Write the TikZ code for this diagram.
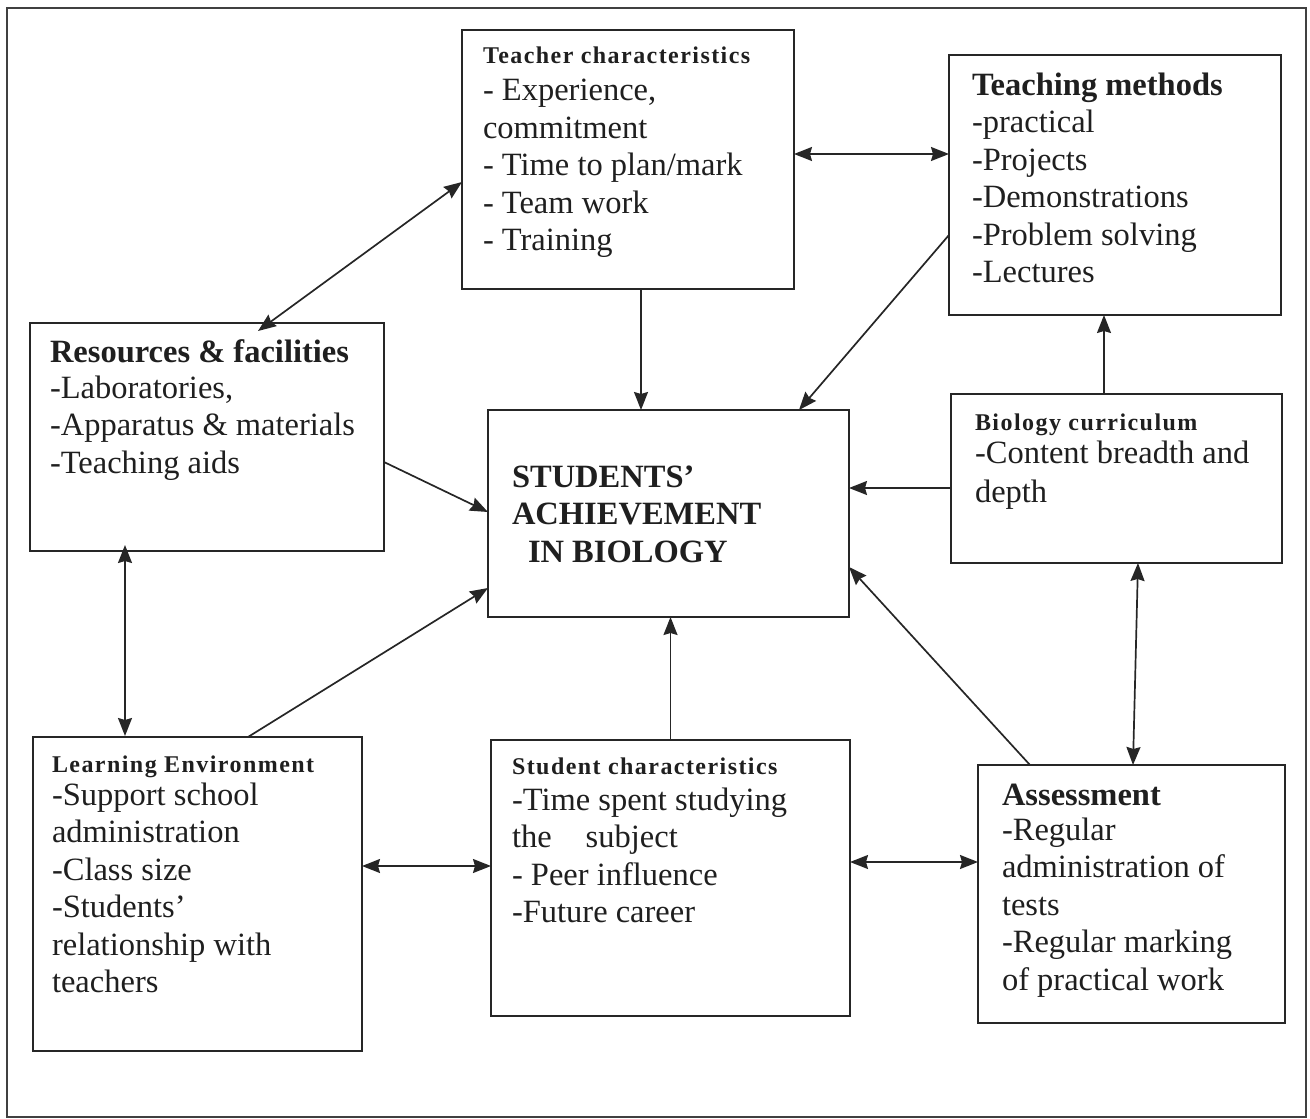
\documentclass[tikz,border=0pt]{standalone}
\usepackage{fontspec}
\setmainfont{Liberation Serif}
\newfontfamily\smallheadfam{Liberation Serif}[LetterSpace=6]
\usetikzlibrary{arrows.meta,calc}
\newcommand\bodyfont{\fontsize{32.5}{37.5}\selectfont}
\newcommand\hs[1]{{\fontsize{24}{26}\selectfont\smallheadfam\bfseries #1}}
\newcommand\hb[1]{{\bfseries #1}}
\newcommand\boxtext[1]{\bodyfont\begin{tabular}[t]{@{}l@{}}#1\end{tabular}}
\tikzset{
  ink/.style={draw=black!85},
  tipk/.tip={Stealth[length=18pt,width=14pt,inset=2pt]},
  box/.style={ink, line width=1.8pt, rectangle, inner sep=0pt, outer sep=0pt, anchor=north west},
  txt/.style={anchor=base west, inner sep=0pt, outer sep=0pt, text=black!88},
  arr/.style={ink, line width=1.7pt, -tipk},
  dbl/.style={ink, line width=1.7pt, tipk-tipk}
}
\begin{document}
\begin{tikzpicture}[x=1pt,y=-1pt]
\useasboundingbox (0,0) rectangle (1310,1119);
\draw[draw=black!75, line width=1.4pt] (7,8) rectangle (1306,1117);

% boxes
\node[box, minimum width=332pt, minimum height=259pt] (tc)  at (462,30)  {};
\node[box, minimum width=332pt, minimum height=260pt] (tm)  at (949,55)  {};
\node[box, minimum width=354pt, minimum height=228pt] (res) at (30,323)  {};
\node[box, minimum width=361pt, minimum height=207pt] (ach) at (488,410) {};
\node[box, minimum width=331pt, minimum height=169pt] (bc)  at (951,394) {};
\node[box, minimum width=329pt, minimum height=314pt] (le)  at (33,737)  {};
\node[box, minimum width=359pt, minimum height=276pt] (sc)  at (491,740) {};
\node[box, minimum width=307pt, minimum height=258pt] (as)  at (978,765) {};

% texts
\node[txt] (tct) at (483,63) {\boxtext{\hs{Teacher characteristics}\\- Experience,\\commitment\\- Time to plan/mark\\- Team work\\- Training}};
\node[txt] (tmt) at (972,95) {\boxtext{\hb{Teaching methods}\\-practical\\-Projects\\-Demonstrations\\-Problem solving\\-Lectures}};
\node[txt] (rest) at (50,362) {\boxtext{\hb{Resources \& facilities}\\[-1.5pt]-Laboratories,\\-Apparatus \& materials\\-Teaching aids}};
\node[txt] (bct) at (975,430) {\boxtext{\hs{Biology curriculum}\\[-4.5pt]-Content breadth and\\[1.5pt]depth}};
\node[txt] (acht) at (512,487) {\boxtext{\hb{STUDENTS’}\\\hb{ACHIEVEMENT}\\\hspace*{16pt}\hb{IN BIOLOGY}}};
\node[txt] (let) at (52,772) {\boxtext{\hs{Learning Environment}\\[-4.5pt]-Support school\\administration\\-Class size\\-Students’\\relationship with\\teachers}};
\node[txt] (sct) at (512,774) {\boxtext{\hs{Student characteristics}\\[-1.5pt]-Time spent studying\\the\hspace{34pt}subject\\- Peer influence\\-Future career}};
\node[txt] (ast) at (1002,805) {\boxtext{\hb{Assessment}\\[-2.5pt]-Regular\\administration of\\tests\\-Regular marking\\of practical work}};

% connectors
\draw[dbl] ($(tc.west)+(0,22.5)$) -- ($(res.north)+(51,8)$);
\draw[dbl] ($(tc.east)+(0,-5.5)$) -- ($(tm.west)+(0,-31)$);
\draw[arr] ($(tc.south)+(13,0)$) -- ($(ach.north)+(-27.5,0)$);
\draw[arr] ($(tm.west)+(0,50)$) -- ($(ach.north)+(130.5,0)$);
\draw[arr] ($(bc.north)+(-12.5,0)$) -- ($(tm.south)+(-11,0)$);
\draw[arr] ($(bc.west)+(0,9.5)$) -- ($(ach.east)+(0,-25.5)$);
\draw[arr] ($(res.east)+(0,25)$) -- ($(ach.west)+(0,-1.5)$);
\draw[dbl] ($(res.south)+(-82,-6)$) -- ($(le.north)+(-72.5,-1)$);
\draw[arr] ($(le.north)+(50.5,0)$) -- ($(ach.west)+(0,74.5)$);
\draw[arr] (sc.north) -- (sc.north |- ach.south);
\draw[dbl] ($(le.east)+(0,-28)$) -- ($(sc.west)+(0,-12)$);
\draw[dbl] ($(sc.east)+(0,-16)$) -- ($(as.west)+(0,-32)$);
\draw[arr] ($(as.north)+(-101.5,0)$) -- ($(ach.east)+(0,53.5)$);
\draw[dbl] ($(bc.south)+(21.5,0)$) -- ($(as.north)+(1.5,0)$);
\end{tikzpicture}
\end{document}
